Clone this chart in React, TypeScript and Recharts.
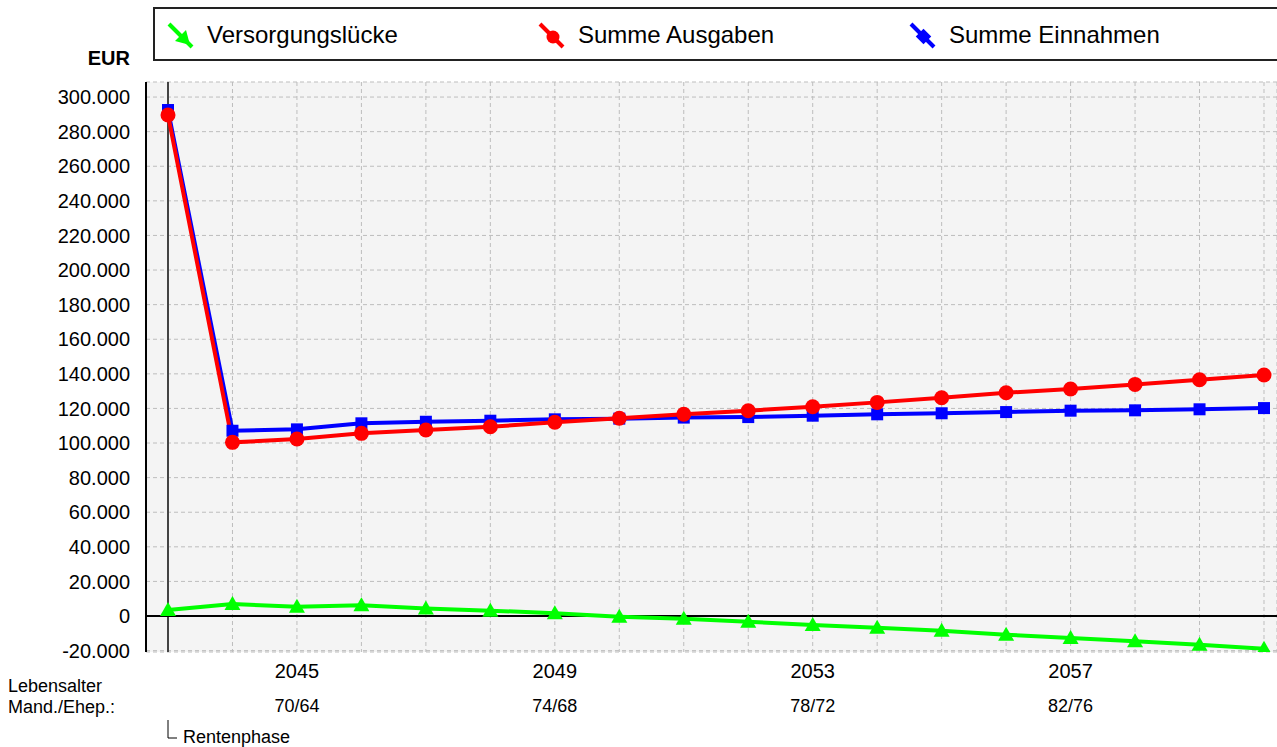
import { LineChart, Line, XAxis, YAxis, CartesianGrid, ReferenceLine } from "recharts";

const years = [2043, 2044, 2045, 2046, 2047, 2048, 2049, 2050, 2051, 2052, 2053, 2054, 2055, 2056, 2057, 2058, 2059, 2060];
const ages = ["68/62", "69/63", "70/64", "71/65", "72/66", "73/67", "74/68", "75/69", "76/70", "77/71", "78/72", "79/73", "80/74", "81/75", "82/76", "83/77", "84/78", "85/79"];
const labelledYears = [2045, 2049, 2053, 2057];

const versorgungsluecke = [3500, 6900, 5400, 6200, 4400, 3100, 1600, -400, -1600, -3300, -5200, -6800, -8500, -10800, -12700, -14600, -16600, -18900];
const summeAusgaben = [289600, 100400, 102300, 105600, 107500, 109400, 112000, 114300, 116600, 118700, 121000, 123500, 126200, 129100, 131200, 133900, 136600, 139300];
const summeEinnahmen = [292500, 107100, 107900, 111400, 112300, 112900, 113700, 114100, 114700, 115000, 115800, 116600, 117200, 117900, 118700, 118900, 119500, 120200];

const yTicks = [-20000, 0, 20000, 40000, 60000, 80000, 100000, 120000, 140000, 160000, 180000, 200000, 220000, 240000, 260000, 280000, 300000];

const FONT = "'Liberation Sans', Arial, sans-serif";

const data = years.map((year, i) => ({
  year,
  age: ages[i],
  luecke: versorgungsluecke[i],
  ausgaben: summeAusgaben[i],
  einnahmen: summeEinnahmen[i],
}));

const legendItems = [
  { name: "Versorgungslücke", color: "#00ff00", shape: "triangle" },
  { name: "Summe Ausgaben", color: "#ff0000", shape: "circle" },
  { name: "Summe Einnahmen", color: "#0000ff", shape: "square" },
];

const formatEur = (v: number) => v.toString().replace(/\B(?=(\d{3})+(?!\d))/g, ".");

const TriangleDot = (props: any) => {
  const { cx, cy } = props;
  if (cx == null || cy == null) return null;
  return <polygon points={`${cx},${cy - 8} ${cx - 8},${cy + 6} ${cx + 8},${cy + 6}`} fill="#00ff00" />;
};

const CircleDot = (props: any) => {
  const { cx, cy } = props;
  if (cx == null || cy == null) return null;
  return <circle cx={cx} cy={cy} r={7.5} fill="#ff0000" />;
};

const SquareDot = (props: any) => {
  const { cx, cy } = props;
  if (cx == null || cy == null) return null;
  return <rect x={cx - 6} y={cy - 6} width={12} height={12} fill="#0000ff" />;
};

const YearTick = (props: any) => {
  const { x, y, payload, index } = props;
  const year = payload.value;
  return (
    <g>
      {labelledYears.includes(year) && (
        <>
          <text x={x} y={y + 26} textAnchor="middle" fontSize={20} fill="#000" fontFamily={FONT}>
            {year}
          </text>
          <text x={x} y={y + 60} textAnchor="middle" fontSize={18} fill="#000" fontFamily={FONT}>
            {ages[index]}
          </text>
        </>
      )}
      {index === 0 && (
        <>
          <path d={`M${x},${y + 68} V${y + 86} H${x + 9}`} stroke="#000" strokeWidth={1} fill="none" />
          <text x={x + 15} y={y + 91} fontSize={18} fill="#000" fontFamily={FONT}>
            Rentenphase
          </text>
        </>
      )}
    </g>
  );
};

const LegendIcon = ({ color, shape }: { color: string; shape: string }) => (
  <svg width={27} height={27} style={{ display: "block" }}>
    <line x1={2} y1={2} x2={25} y2={25} stroke={color} strokeWidth={4} />
    {shape === "triangle" && <polygon points="23,23 8,19 19,8" fill={color} />}
    {shape === "circle" && <circle cx={15} cy={15} r={6.5} fill={color} />}
    {shape === "square" && <rect x={9} y={9} width={11} height={11} fill={color} transform="rotate(45 14.5 14.5)" />}
  </svg>
);

export default function App() {
  return (
    <div style={{ position: "absolute", left: 0, top: 0, width: 1277, height: 747, background: "#fff", fontFamily: FONT }}>
      <div
        style={{
          position: "absolute",
          left: 153,
          top: 7,
          width: 1130,
          height: 50,
          border: "2px solid #222",
          boxSizing: "content-box",
        }}
      >
        {legendItems.map((item, i) => (
          <div
            key={item.name}
            style={{ position: "absolute", left: 12 + i * 371, top: 1, height: 50, display: "flex", alignItems: "center" }}
          >
            <LegendIcon color={item.color} shape={item.shape} />
            <span style={{ marginLeft: 13, fontSize: 24, color: "#000", whiteSpace: "nowrap" }}>{item.name}</span>
          </div>
        ))}
      </div>

      <svg width={1277} height={747} style={{ position: "absolute", left: 0, top: 0, pointerEvents: "none" }}>
        <text x={130} y={65} textAnchor="end" fontSize={20} fontWeight="bold" fontFamily={FONT}>
          EUR
        </text>
        <text x={8} y={692} fontSize={18} fontFamily={FONT}>
          Lebensalter
        </text>
        <text x={8} y={713} fontSize={18} fontFamily={FONT}>
          Mand./Ehep.:
        </text>
      </svg>

      <div style={{ position: "absolute", left: 0, top: 0 }}>
        <LineChart width={1277} height={747} data={data} margin={{ top: 82, right: 0, bottom: 0, left: 0 }}>
          <CartesianGrid fill="#f4f4f4" stroke="#bdbdbd" strokeDasharray="4 3" />
          <XAxis
            dataKey="year"
            type="category"
            interval={0}
            padding={{ left: 22, right: 13 }}
            axisLine={false}
            tickLine={false}
            tickSize={0}
            tickMargin={0}
            tick={<YearTick />}
            height={95}
          />
          <YAxis
            width={146}
            domain={[-20800, 308700]}
            allowDataOverflow
            ticks={yTicks}
            interval={0}
            tickFormatter={formatEur}
            axisLine={{ stroke: "#000", strokeWidth: 2 }}
            tickLine={false}
            tickSize={0}
            tickMargin={16}
            tick={{ fill: "#000", fontSize: 20, fontFamily: FONT }}
          />
          <ReferenceLine x={2043} stroke="#444" strokeWidth={2} />
          <ReferenceLine y={0} stroke="#000" strokeWidth={2} />
          <Line
            dataKey="luecke"
            stroke="#00ff00"
            strokeWidth={4}
            dot={<TriangleDot />}
            activeDot={false}
            isAnimationActive={false}
          />
          <Line
            dataKey="einnahmen"
            stroke="#0000ff"
            strokeWidth={4}
            dot={<SquareDot />}
            activeDot={false}
            isAnimationActive={false}
          />
          <Line
            dataKey="ausgaben"
            stroke="#ff0000"
            strokeWidth={4}
            dot={<CircleDot />}
            activeDot={false}
            isAnimationActive={false}
          />
        </LineChart>
      </div>
    </div>
  );
}
